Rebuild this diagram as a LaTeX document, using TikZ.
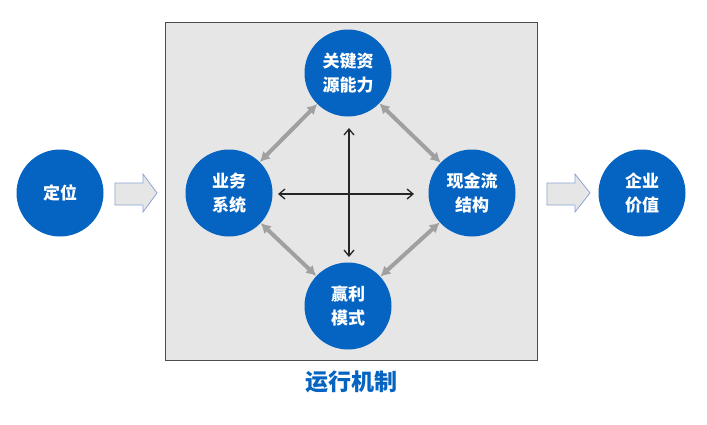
\documentclass[tikz,border=0pt]{standalone}
\usepackage{fontspec}
\newfontfamily\cjk{Noto Sans CJK SC}
\usetikzlibrary{arrows.meta}
\definecolor{cblue}{RGB}{5,99,193}
\definecolor{boxgray}{RGB}{230,230,230}
\definecolor{lgray}{RGB}{160,160,160}
\definecolor{arrowedge}{RGB}{140,165,215}
\begin{document}
\begin{tikzpicture}[x=1pt,y=-1pt,
  circ/.style={circle,fill=cblue,minimum size=87pt,inner sep=0pt,text=white,
    font=\cjk\bfseries\fontsize{17pt}{24pt}\selectfont,align=center},
  grayarrow/.style={draw=lgray,line width=4pt,{Latex[length=10pt,width=11pt]}-{Latex[length=10pt,width=11pt]}},
  blackarrow/.style={draw=black!85,line width=1.3pt,{Straight Barb[length=6pt,width=10pt]}-{Straight Barb[length=6pt,width=10pt]}},
  blockarrow/.style={draw=arrowedge,fill=boxgray,line width=0.8pt}]
\useasboundingbox (0,0) rectangle (707,424);
\draw[fill=boxgray,draw=black!70,line width=0.8pt] (165,22) rectangle (537,360);
\node[circ] (dw) at (60,193) {定位};
\node[circ] (top) at (348,73) {关键资\\源能力};
\node[circ] (lft) at (229,193) {业务\\系统};
\node[circ] (rgt) at (472,193) {现金流\\结构};
\node[circ] (bot) at (348,306) {赢利\\模式};
\node[circ] (qy) at (642,193) {企业\\价值};
\draw[grayarrow] (lft) -- (top);
\draw[grayarrow] (top) -- (rgt);
\draw[grayarrow] (rgt) -- (bot);
\draw[grayarrow] (bot) -- (lft);
\coordinate (hl) at (278,194);
\coordinate (hr) at (414,194);
\coordinate (vt) at (349,128);
\coordinate (vb) at (349,257);
\draw[blackarrow] (hl) -- (hr);
\draw[blackarrow] (vt) -- (vb);
\draw[blockarrow] (115,183) -- (143,183) -- (143,174) -- (157,193) -- (143,212) -- (143,205) -- (115,205) -- cycle;
\draw[blockarrow] (547,183) -- (575,183) -- (575,174) -- (590,193) -- (575,212) -- (575,205) -- (547,205) -- cycle;
\node[text=cblue,font=\cjk\bfseries\fontsize{23pt}{25pt}\selectfont] (yx) at (351,382) {运行机制};
\end{tikzpicture}
\end{document}
